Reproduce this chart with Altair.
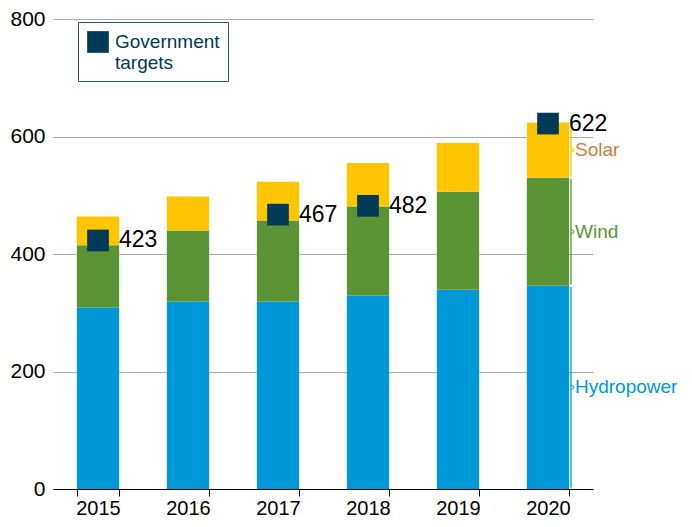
import altair as alt
import pandas as pd

years = ["2015", "2016", "2017", "2018", "2019", "2020"]
hydro = [309, 319, 319, 329, 339, 346]
wind = [106, 121, 138, 152, 167, 184]
solar = [49, 58, 66, 74, 83, 94]

target_years = ["2015", "2017", "2018", "2020"]
target_values = [423, 467, 482, 622]

sources = ["Hydropower", "Wind", "Solar"]
bar_colors = ["#0098d8", "#5b9435", "#ffc600"]
label_colors = ["#0098d8", "#5b9435", "#c8803c"]

rows = []
for i, yr in enumerate(years):
    base = 0
    for s, vals in zip(sources, [hydro, wind, solar]):
        rows.append({"year": yr, "source": s, "y0": base, "y1": base + vals[i],
                     "mid": base + vals[i] / 2})
        base += vals[i]
bars_df = pd.DataFrame(rows)
last_df = bars_df[bars_df["year"] == years[-1]].copy()
last_df["b0"] = last_df["y0"] + 2
last_df["b1"] = last_df["y1"] - 2

targets_df = pd.DataFrame({"year": target_years, "value": target_values,
                           "key": ["Government targets"] * len(target_years)})

FONT = "Liberation Sans"

x_enc = alt.X("year:N", sort=years,
              scale=alt.Scale(paddingInner=0.53, paddingOuter=0.265),
              axis=alt.Axis(title=None, labelFontSize=20, labelColor="#000",
                            domainColor="#000", tickColor="#000", tickSize=7,
                            tickBand="extent", labelAngle=0, labelPadding=2,
                            labelFont=FONT))
y_scale = alt.Scale(domain=[0, 800])

bars = alt.Chart(bars_df).mark_bar().encode(
    x=x_enc,
    y=alt.Y("y0:Q", scale=y_scale,
            axis=alt.Axis(title=None, values=[0, 200, 400, 600, 800],
                          labelFontSize=21, labelColor="#000", domain=False,
                          ticks=False, gridColor="#aaaaaa", labelPadding=8,
                          labelFont=FONT)),
    y2="y1:Q",
    color=alt.Color("source:N", scale=alt.Scale(domain=sources, range=bar_colors),
                    legend=None),
)

braces = alt.Chart(last_df).mark_rule(xOffset=23, strokeWidth=1.3).encode(
    x=alt.X("year:N", sort=years),
    y="b0:Q", y2="b1:Q",
    color=alt.Color("source:N", scale=alt.Scale(domain=sources, range=bar_colors),
                    legend=None),
)

tips = alt.Chart(last_df).mark_point(
    shape="M-1,-1L0,0L-1,1", xOffset=26, size=30, filled=False, strokeWidth=1.3
).encode(
    x=alt.X("year:N", sort=years),
    y="mid:Q",
    color=alt.Color("source:N", scale=alt.Scale(domain=sources, range=bar_colors),
                    legend=None),
)

seg_labels = alt.Chart(last_df).mark_text(
    align="left", baseline="middle", xOffset=27, fontSize=19, font=FONT
).encode(
    x=alt.X("year:N", sort=years),
    y="mid:Q",
    text="source:N",
    fill=alt.Fill("source:N", scale=alt.Scale(domain=sources, range=label_colors),
                  legend=None),
)

points = alt.Chart(targets_df).mark_point(shape="square", filled=True, size=470,
                                          opacity=1).encode(
    x=alt.X("year:N", sort=years),
    y="value:Q",
    color=alt.Color("key:N", scale=alt.Scale(domain=["Government targets"],
                                             range=["#003a57"]),
                    legend=alt.Legend(title=None, orient="none", legendX=25,
                                      legendY=3, symbolType="square",
                                      symbolSize=470, symbolOpacity=1,
                                      labelFontSize=19, labelColor="#003a57",
                                      labelFont=FONT, padding=8,
                                      strokeColor="#2a5670",
                                      labelExpr="split(datum.label, ' ')",
                                      labelOffset=5)),
)

point_labels = alt.Chart(targets_df).mark_text(
    align="left", baseline="middle", xOffset=21, fontSize=23, font=FONT, color="#000"
).encode(
    x=alt.X("year:N", sort=years),
    y="value:Q",
    text="value:Q",
)

chart = alt.layer(bars, braces, tips, seg_labels, points, point_labels).resolve_scale(
    color="independent"
).properties(
    width=540, height=470,
    autosize=alt.AutoSizeParams(type="none"),
    padding={"left": 45, "top": 11, "right": 91, "bottom": 30},
).configure(font=FONT).configure_view(stroke=None)

chart.save("out.html", embed_options={"renderer": "svg", "actions": False})
